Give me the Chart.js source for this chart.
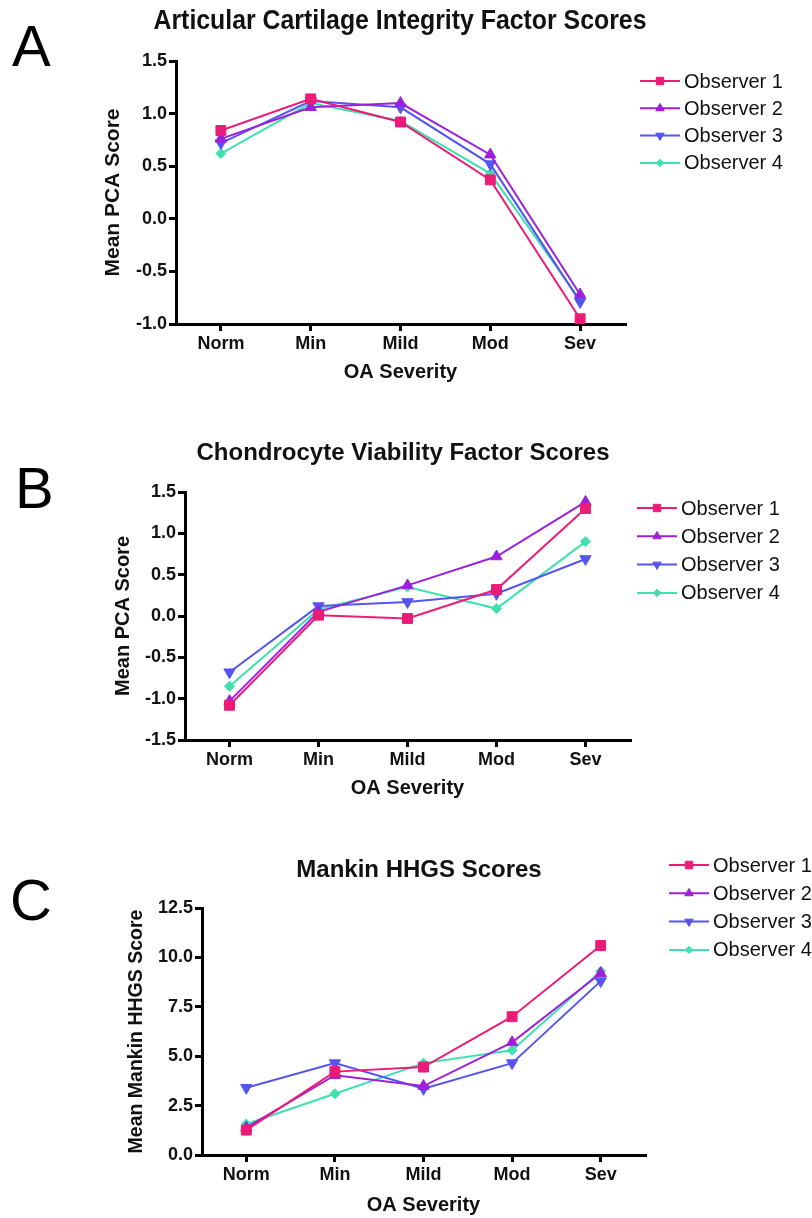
<!DOCTYPE html>
<html>
<head>
<meta charset="utf-8">
<script src="https://cdn.jsdelivr.net/npm/chart.js@4.4.1/dist/chart.umd.min.js"></script>
<style>
    body { margin: 0; background: #ffffff; width: 812px; height: 1218px; position: relative; overflow: hidden; }
    canvas { position: absolute; left: 0; }
</style>
</head>
<body>
<canvas id="panelA" width="812" height="400" style="top:0px"></canvas>
<canvas id="panelB" width="812" height="390" style="top:420px"></canvas>
<canvas id="panelC" width="812" height="388" style="top:830px"></canvas>
<script>
const categories = ['Norm', 'Min', 'Mild', 'Mod', 'Sev'];
const observerNames = ['Observer 1', 'Observer 2', 'Observer 3', 'Observer 4'];

// A - articular cartilage integrity
const cartilageObs1 = [0.84, 1.14, 0.92, 0.37, -0.95];
const cartilageObs2 = [0.76, 1.06, 1.10, 0.61, -0.72];
const cartilageObs3 = [0.72, 1.12, 1.06, 0.52, -0.79];
const cartilageObs4 = [0.62, 1.10, 0.93, 0.43, -0.77];

// B - chondrocyte viability
const viabilityObs1 = [-1.08, 0.01, -0.03, 0.32, 1.30];
const viabilityObs2 = [-1.03, 0.05, 0.37, 0.72, 1.38];
const viabilityObs3 = [-0.68, 0.12, 0.17, 0.27, 0.69];
const viabilityObs4 = [-0.85, 0.08, 0.35, 0.09, 0.90];

// C - Mankin HHGS
const mankinObs1 = [1.26, 4.22, 4.45, 7.00, 10.60];
const mankinObs2 = [1.38, 4.04, 3.49, 5.70, 9.20];
const mankinObs3 = [3.40, 4.65, 3.35, 4.65, 8.80];
const mankinObs4 = [1.57, 3.10, 4.65, 5.30, 9.30];

const pcaTicksA = [-1.0, -0.5, 0.0, 0.5, 1.0, 1.5];
const pcaTicksB = [-1.5, -1.0, -0.5, 0.0, 0.5, 1.0, 1.5];
const mankinTicks = [0.0, 2.5, 5.0, 7.5, 10.0, 12.5];

const fontFamily = '"Liberation Sans", Arial, Helvetica, sans-serif';
const observerColors = ['#EC1B78', '#9E1FDA', '#5555EE', '#3EE0AE'];
const observerMarkers = [
    { style: 'rect', radius: 7, rotation: 0 },
    { style: 'triangle', radius: 6.5, rotation: 0 },
    { style: 'triangle', radius: 6.5, rotation: 180 },
    { style: 'rectRot', radius: 5, rotation: 0 }
];

function buildDatasets(seriesList) {
    return seriesList.map(function(values, i) {
        return {
            label: observerNames[i],
            data: values,
            borderColor: observerColors[i],
            backgroundColor: observerColors[i],
            borderWidth: 2,
            pointStyle: observerMarkers[i].style,
            pointRadius: observerMarkers[i].radius,
            pointRotation: observerMarkers[i].rotation,
            pointBorderWidth: 1,
            tension: 0,
            clip: false
        };
    });
}

// legend: short line with the marker in the middle, then the name
const observerLegend = {
    id: 'observerLegend',
    afterDraw: function(chart, args, opts) {
        const ctx = chart.ctx;
        ctx.save();
        chart.data.datasets.forEach(function(ds, i) {
            const y = opts.y + i * opts.dy;
            ctx.strokeStyle = ds.borderColor;
            ctx.fillStyle = ds.backgroundColor;
            ctx.lineWidth = 2;
            ctx.beginPath();
            ctx.moveTo(opts.x, y);
            ctx.lineTo(opts.x + 40, y);
            ctx.stroke();
            ctx.lineWidth = 1;
            Chart.helpers.drawPoint(ctx, {
                pointStyle: ds.pointStyle,
                radius: ds.pointRadius * 0.75,
                rotation: ds.pointRotation,
                borderWidth: 1
            }, opts.x + 20, y);
            ctx.fillStyle = '#111111';
            ctx.font = '20px ' + fontFamily;
            ctx.textBaseline = 'middle';
            ctx.textAlign = 'left';
            ctx.fillText(ds.label, opts.x + 44, y + 1);
        });
        ctx.restore();
    }
};

// panel letter and heading
const panelHeading = {
    id: 'panelHeading',
    afterDraw: function(chart, args, opts) {
        const ctx = chart.ctx;
        ctx.save();
        ctx.fillStyle = '#000000';
        ctx.textBaseline = 'alphabetic';
        ctx.textAlign = 'left';
        ctx.font = '58px ' + fontFamily;
        ctx.fillText(opts.letter, opts.letterX, opts.letterY);

        ctx.fillStyle = '#111111';
        ctx.textBaseline = 'middle';
        ctx.textAlign = 'center';
        ctx.font = 'bold ' + opts.size + 'px ' + fontFamily;
        ctx.fillText(opts.title, opts.x, opts.y, opts.maxWidth);
        ctx.restore();
    }
};

function makePanel(canvasId, p) {
    const canvas = document.getElementById(canvasId);
    return new Chart(canvas, {
        type: 'line',
        data: {
            labels: categories,
            datasets: buildDatasets(p.series)
        },
        plugins: [observerLegend, panelHeading],
        options: {
            responsive: false,
            animation: false,
            layout: {
                padding: { left: 0, top: p.topPad, bottom: 0, right: p.rightPad }
            },
            plugins: {
                legend: { display: false },
                tooltip: { enabled: false },
                title: { display: false },
                observerLegend: p.legend,
                panelHeading: p.heading
            },
            scales: {
                x: {
                    offset: true,
                    afterFit: function(scale) { scale.height = p.xHeight; },
                    border: { display: true, color: '#000000', width: 3 },
                    grid: {
                        display: true,
                        offset: false,
                        drawOnChartArea: false,
                        drawTicks: true,
                        tickLength: 7,
                        color: '#000000',
                        lineWidth: 3
                    },
                    ticks: {
                        color: '#111111',
                        padding: 2,
                        maxRotation: 0,
                        font: { family: fontFamily, size: 18, weight: 'bold' }
                    },
                    title: {
                        display: true,
                        text: 'OA Severity',
                        color: '#111111',
                        font: { family: fontFamily, size: 20, weight: 'bold' },
                        padding: { top: 0, bottom: p.xTitleBottom }
                    }
                },
                y: {
                    min: p.ticks[0],
                    max: p.ticks[p.ticks.length - 1],
                    afterFit: function(scale) { scale.width = p.yWidth; },
                    afterBuildTicks: function(scale) {
                        scale.ticks = p.ticks.map(function(v) { return { value: v }; });
                    },
                    border: { display: true, color: '#000000', width: 3 },
                    grid: {
                        display: true,
                        drawOnChartArea: false,
                        drawTicks: true,
                        tickLength: 7,
                        color: '#000000',
                        lineWidth: 3
                    },
                    ticks: {
                        color: '#111111',
                        padding: 2,
                        font: { family: fontFamily, size: 18, weight: 'bold' },
                        callback: function(value) { return Number(value).toFixed(1); }
                    },
                    title: {
                        display: true,
                        text: p.yTitle,
                        color: '#111111',
                        font: { family: fontFamily, size: p.yTitleSize, weight: 'bold' },
                        padding: { top: p.yTitleOffset, bottom: 0 }
                    }
                }
            }
        }
    });
}

makePanel('panelA', {
    series: [cartilageObs1, cartilageObs2, cartilageObs3, cartilageObs4],
    yTitle: 'Mean PCA Score', yTitleSize: 21, yTitleOffset: 101,
    ticks: pcaTicksA,
    topPad: 61, yWidth: 176, rightPad: 187, xHeight: 76, xTitleBottom: 16,
    legend: { x: 640, y: 81, dy: 27.3 },
    heading: {
        title: 'Articular Cartilage Integrity Factor Scores', size: 27,
        x: 400, y: 22, maxWidth: 493,
        letter: 'A', letterX: 12, letterY: 66
    }
});

makePanel('panelB', {
    series: [viabilityObs1, viabilityObs2, viabilityObs3, viabilityObs4],
    yTitle: 'Mean PCA Score', yTitleSize: 20, yTitleOffset: 111,
    ticks: pcaTicksB,
    topPad: 72, yWidth: 185, rightPad: 182, xHeight: 70, xTitleBottom: 10,
    legend: { x: 637, y: 88, dy: 28.3 },
    heading: {
        title: 'Chondrocyte Viability Factor Scores', size: 24,
        x: 403, y: 33, maxWidth: 420,
        letter: 'B', letterX: 15, letterY: 88
    }
});

makePanel('panelC', {
    series: [mankinObs1, mankinObs2, mankinObs3, mankinObs4],
    yTitle: 'Mean Mankin HHGS Score', yTitleSize: 19.5, yTitleOffset: 125,
    ticks: mankinTicks,
    topPad: 78, yWidth: 202, rightPad: 167, xHeight: 63, xTitleBottom: 1,
    legend: { x: 669, y: 35, dy: 28.3 },
    heading: {
        title: 'Mankin HHGS Scores', size: 24,
        x: 419, y: 40, maxWidth: 300,
        letter: 'C', letterX: 10, letterY: 90
    }
});
</script>
</body>
</html>
